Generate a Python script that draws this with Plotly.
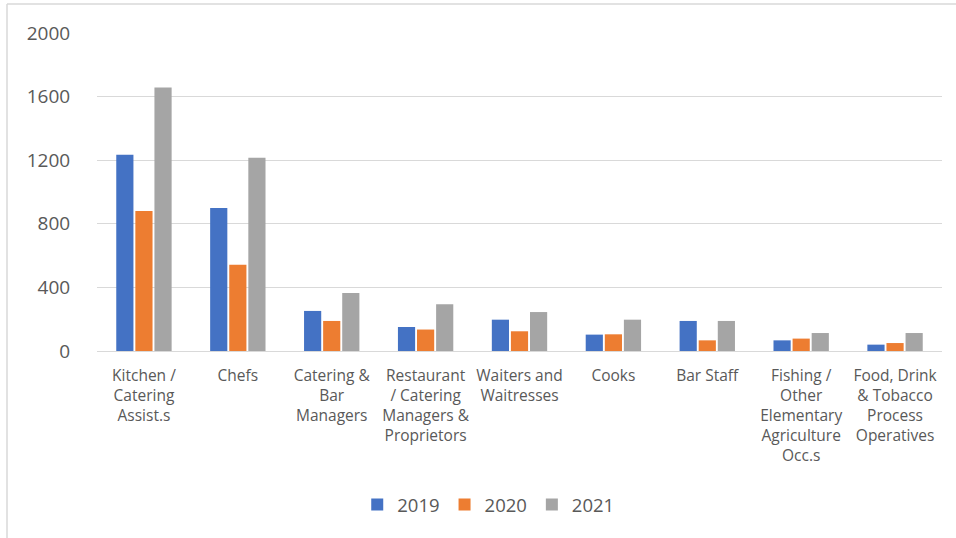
import plotly.graph_objects as go

categories = [
    "Kitchen /<br>Catering<br>Assist.s",
    "Chefs",
    "Catering &<br>Bar<br>Managers",
    "Restaurant<br>/ Catering<br>Managers &<br>Proprietors",
    "Waiters and<br>Waitresses",
    "Cooks",
    "Bar Staff",
    "Fishing /<br>Other<br>Elementary<br>Agriculture<br>Occ.s",
    "Food, Drink<br>& Tobacco<br>Process<br>Operatives",
]
values_2019 = [1235, 899, 252, 151, 197, 103, 189, 67, 40]
values_2020 = [880, 543, 189, 135, 124, 105, 67, 78, 50]
values_2021 = [1657, 1216, 365, 294, 245, 197, 189, 113, 113]
years = ["2019", "2020", "2021"]
colors = ["#4472C4", "#ED7D31", "#A5A5A5"]
y_ticks = [0, 400, 800, 1200, 1600, 2000]

FONT = "Open Sans"
TEXT = "#595959"
GRID = "#D9D9D9"

fig = go.Figure()
for name, vals, col in zip(years, [values_2019, values_2020, values_2021], colors):
    fig.add_trace(go.Bar(x=categories, y=vals, name=name, marker_color=col,
                         marker_line_width=0))

W, H = 956, 538
L, R, T, B = 97, 14, 33, 187
pw, ph = W - L - R, H - T - B

fig.update_layout(
    width=W, height=H,
    margin=dict(l=L, r=R, t=T, b=B),
    paper_bgcolor="white", plot_bgcolor="white",
    barmode="group", bargap=0.39, bargroupgap=0.1,
    font=dict(family=FONT, color=TEXT),
    showlegend=True,
    legend=dict(orientation="h", x=0.463, xanchor="center",
                y=(T + ph - 505) / ph, yanchor="middle",
                font=dict(size=18.5, color=TEXT), itemwidth=30,
                tracegroupgap=0),
    xaxis=dict(showgrid=False, showline=False, ticks="outside", ticklen=10,
               tickcolor="rgba(0,0,0,0)", tickfont=dict(size=15.5, color=TEXT),
               tickangle=0),
    yaxis=dict(range=[0, 2000], tickvals=y_ticks, showgrid=True, gridcolor=GRID,
               gridwidth=1, zeroline=True, zerolinecolor=GRID, zerolinewidth=1,
               showline=False, ticks="outside", ticklen=22,
               tickcolor="rgba(0,0,0,0)", tickfont=dict(size=19, color=TEXT)),
    shapes=[
        dict(type="line", xref="paper", yref="paper",
             x0=(7 - L) / pw, x1=(W - L) / pw,
             y0=(H - B - 4) / ph, y1=(H - B - 4) / ph,
             line=dict(color=GRID, width=1.5)),
        dict(type="line", xref="paper", yref="paper",
             x0=(7 - L) / pw, x1=(7 - L) / pw,
             y0=(H - B - 4) / ph, y1=-B / ph,
             line=dict(color=GRID, width=1.5)),
    ],
)

fig.write_html("out.html")
